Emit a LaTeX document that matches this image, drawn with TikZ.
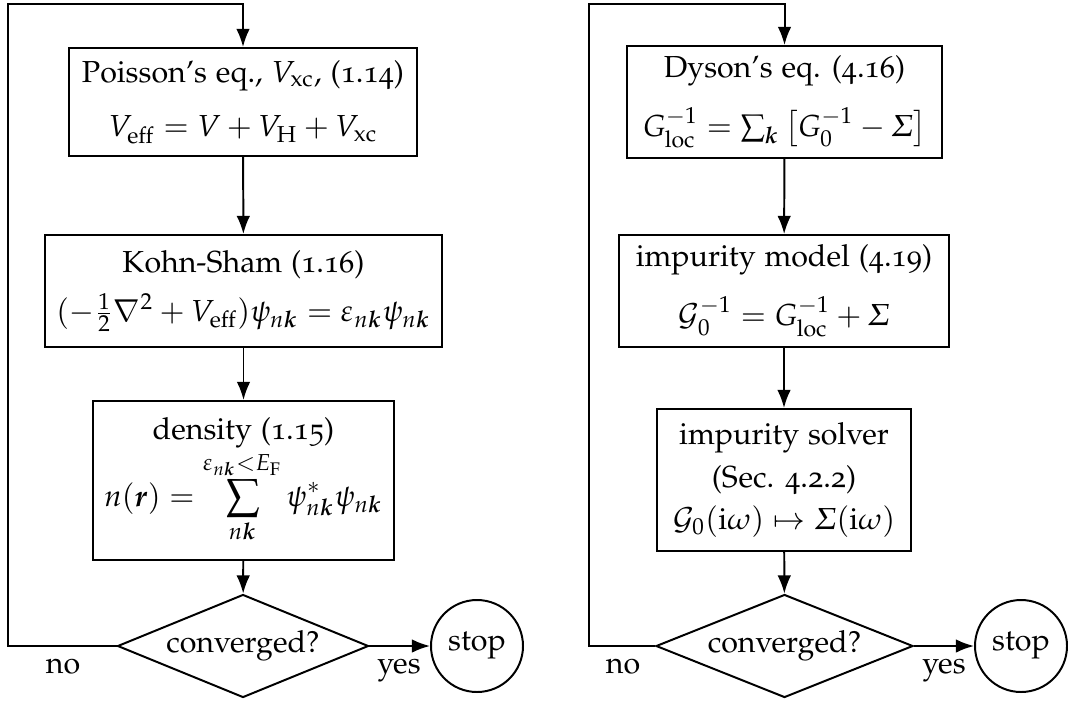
\documentclass[tikz,border=0pt]{standalone}
\usepackage{amsmath}
\usepackage[T1]{fontenc}
\usepackage[osf]{mathpazo}
\usepackage{bm}
\usetikzlibrary{shapes.geometric,arrows.meta}
\begin{document}
\begin{tikzpicture}[x=0.329pt,y=-0.329pt,
  line width=0.65pt,
  box/.style={draw,rectangle,align=center,inner sep=0pt},
  dec/.style={draw,diamond,inner sep=0pt,aspect=2.44,minimum width=251*0.329pt,minimum height=103*0.329pt},
  stopc/.style={draw,circle,inner sep=0pt,minimum size=92*0.329pt},
  arr/.style={-{Latex[length=6pt,width=4.5pt]}},
  lab/.style={inner sep=0pt}]
\useasboundingbox (0,0) rectangle (1068,702);
% left chart
\node[box,minimum width=348*0.329pt,minimum height=108*0.329pt] (L1) at (243,102)
  {Poisson's eq., $V_{\mathrm{xc}}$, (1.14)\\[6pt] $V_{\mathrm{eff}}=V+V_{\mathrm{H}}+V_{\mathrm{xc}}$};
\node[box,minimum width=397*0.329pt,minimum height=112*0.329pt] (L2) at (243.5,291)
  {Kohn-Sham (1.16)\\[4pt] $(-\tfrac12\nabla^2+V_{\mathrm{eff}})\psi_{n\bm k}=\varepsilon_{n\bm k}\psi_{n\bm k}$};
\node[box,minimum width=301*0.329pt,minimum height=159*0.329pt] (L3) at (243.5,480.5)
  {density (1.15)\\[0pt] $\displaystyle n(\bm r)=\sum_{n\bm k}^{\varepsilon_{n\bm k}<E_{\mathrm F}}\psi^*_{n\bm k}\psi_{n\bm k}$};
\node[dec] (DL) at (243,646) {converged?};
\node[stopc] (SL) at (477,646) {stop};
\node[lab,anchor=base] (noL) at (63,673) {no};
\node[lab,anchor=base] (yesL) at (399,673) {yes};
\coordinate (TL) at (8,4);
\draw[arr] (L1) -- (L2);
\draw[arr] (L2) -- (L3);
\draw[arr] (L3) -- (DL);
\draw[arr] (DL.east) -- (SL.west);
\draw[arr] (DL.west) -| (TL) -| (L1.north);
% right chart
\node[box,minimum width=315*0.329pt,minimum height=112*0.329pt] (R1) at (784.5,102)
  {Dyson's eq. (4.16)\\[6pt] $G^{-1}_{\mathrm{loc}}=\sum_{\bm k}\big[G_0^{-1}-\varSigma\big]$};
\node[box,minimum width=330*0.329pt,minimum height=112*0.329pt] (R2) at (784,291)
  {impurity model (4.19)\\[6pt] $\mathcal{G}_0^{-1}=G^{-1}_{\mathrm{loc}}+\varSigma$};
\node[box,minimum width=254*0.329pt,minimum height=142*0.329pt] (R3) at (784,480)
  {impurity solver\\[2pt] (Sec. 4.2.2)\\[2pt] $\mathcal{G}_0(\mathrm{i}\omega)\mapsto\varSigma(\mathrm{i}\omega)$};
\node[dec,minimum width=257*0.329pt,aspect=2.5] (DR) at (784.5,646) {converged?};
\node[stopc] (SR) at (1021,646) {stop};
\node[lab,anchor=base] (noR) at (623,673) {no};
\node[lab,anchor=base] (yesR) at (944,673) {yes};
\coordinate (TR) at (589,4);
\draw[arr] (R1) -- (R2);
\draw[arr] (R2) -- (R3);
\draw[arr] (R3) -- (DR);
\draw[arr] (DR.east) -- (SR.west);
\draw[arr] (DR.west) -| (TR) -| (R1.north);
\end{tikzpicture}
\end{document}
